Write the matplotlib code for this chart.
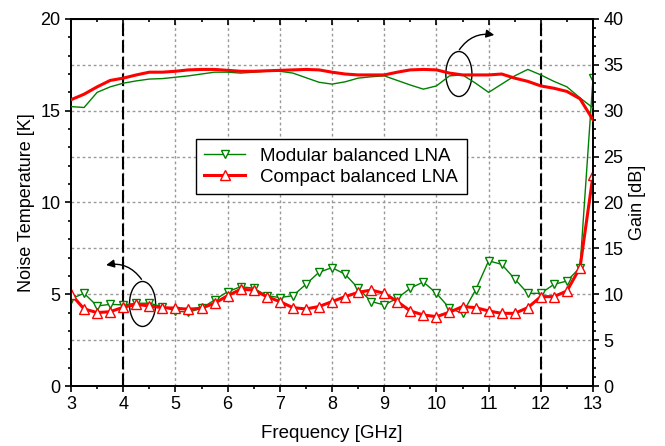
# noise temperature and gain of the two balanced LNAs
import numpy as np
import matplotlib

matplotlib.use("Agg")
import matplotlib.pyplot as plt
from matplotlib.patches import Ellipse, FancyArrowPatch
from matplotlib.ticker import MultipleLocator

plt.rcParams["font.family"] = ["Liberation Sans", "DejaVu Sans"]
plt.rcParams["font.size"] = 13

freq = np.arange(3.0, 13.01, 0.25)  # GHz, 41 points

noise_modular = [4.75, 5.05, 4.36, 4.45, 4.42, 4.51, 4.51, 4.32, 4.09, 4.02,
                 4.24, 4.69, 5.14, 5.41, 5.33, 4.92, 4.82, 4.92, 5.54, 6.20,
                 6.45, 6.09, 5.33, 4.60, 4.42, 4.78, 5.33, 5.67, 5.05, 4.24,
                 3.96, 5.23, 6.82, 6.63, 5.83, 5.05, 5.05, 5.54, 5.72, 6.45,
                 16.8]
noise_compact = [5.00, 4.20, 4.00, 4.05, 4.29, 4.45, 4.36, 4.27, 4.24, 4.18,
                 4.24, 4.51, 4.92, 5.27, 5.23, 4.87, 4.60, 4.27, 4.20, 4.33,
                 4.60, 4.87, 5.10, 5.23, 5.05, 4.60, 4.09, 3.87, 3.78, 4.02,
                 4.33, 4.27, 4.09, 3.96, 3.96, 4.27, 4.87, 4.87, 5.18, 6.45,
                 11.5]
gain_modular = [30.45, 30.35, 32.0, 32.6, 33.0, 33.25, 33.45, 33.5, 33.65, 33.8,
                34.0, 34.2, 34.2, 34.1, 34.2, 34.3, 34.3, 34.1, 33.6, 33.1,
                32.9, 33.15, 33.55, 33.7, 33.8, 33.3, 32.8, 32.35, 32.7, 33.8,
                33.9, 33.0, 32.0, 32.9, 33.8, 34.5, 33.9, 33.2, 32.6, 31.4,
                30.3]
gain_compact = [31.2, 31.8, 32.6, 33.3, 33.55, 33.9, 34.2, 34.2, 34.3, 34.45,
                34.5, 34.5, 34.4, 34.3, 34.3, 34.35, 34.4, 34.45, 34.5, 34.45,
                34.2, 34.0, 33.9, 33.9, 33.9, 34.2, 34.45, 34.5, 34.45, 34.1,
                33.9, 33.9, 33.9, 34.0, 33.55, 33.2, 32.7, 32.45, 32.1, 31.3,
                29.0]

green = "#008000"
red = "#ff0000"

fig = plt.figure(figsize=(6.65, 4.46), dpi=100)
ax1 = fig.add_axes([0.1068, 0.1345, 0.785, 0.823])
ax2 = ax1.twinx()

ax1.set_xlim(3, 13)
ax1.set_ylim(0, 20)
ax2.set_ylim(0, 40)

# grid: vertical at each GHz, horizontal at each 5 dB
for xv in range(4, 13):
    ax1.axvline(xv, color="#999999", lw=1, ls=(0, (2, 2)), zorder=0)
for yv in np.arange(2.5, 20, 2.5):
    ax1.axhline(yv, color="#999999", lw=1, ls=(0, (2, 2)), zorder=0)

for xv in [4, 12]:
    ax1.axvline(xv, color="black", lw=1.5, ls=(0, (6, 2)), zorder=1)

ax1.plot(freq, noise_modular, color=green, lw=1, marker="v", ms=6,
         mfc="white", mec=green, mew=1, label="Modular balanced LNA", zorder=3)
ax1.plot(freq, noise_compact, color=red, lw=2.2, marker="^", ms=6.5,
         mfc="white", mec=red, mew=1, label="Compact balanced LNA", zorder=4)
ax2.plot(freq, gain_modular, color=green, lw=1, zorder=3)
ax2.plot(freq, gain_compact, color=red, lw=2.2, zorder=4)

# ellipses + curved arrows pointing to the matching axis
ax1.add_patch(Ellipse((4.37, 4.47), 0.5, 2.45, fill=False, lw=1, color="black"))
ax1.add_patch(FancyArrowPatch((4.38, 5.69), (3.62, 6.56),
                              connectionstyle="arc3,rad=0.35",
                              arrowstyle="-|>", mutation_scale=12, lw=1,
                              color="black"))
ax2.add_patch(Ellipse((10.43, 34.0), 0.5, 4.9, fill=False, lw=1, color="black"))
ax2.add_patch(FancyArrowPatch((10.41, 36.4), (11.16, 38.2),
                              connectionstyle="arc3,rad=-0.35",
                              arrowstyle="-|>", mutation_scale=12, lw=1,
                              color="black"))

ax1.xaxis.set_major_locator(MultipleLocator(1))
ax1.xaxis.set_minor_locator(MultipleLocator(0.5))
ax1.yaxis.set_major_locator(MultipleLocator(5))
ax1.yaxis.set_minor_locator(MultipleLocator(1))
ax2.yaxis.set_major_locator(MultipleLocator(5))
ax2.yaxis.set_minor_locator(MultipleLocator(1))

for ax in (ax1, ax2):
    ax.tick_params(which="major", length=4, width=1.2, direction="out",
                   labelsize=13)
    ax.tick_params(which="minor", length=2, width=1.2, direction="out")
    for s in ax.spines.values():
        s.set_linewidth(1.3)

top = ax1.secondary_xaxis("top")
top.xaxis.set_major_locator(MultipleLocator(1))
top.xaxis.set_minor_locator(MultipleLocator(0.5))
top.tick_params(which="major", length=4, width=1.2, direction="in",
                labeltop=False)
top.tick_params(which="minor", length=2, width=1.2, direction="in")

ax1.set_xlabel("Frequency [GHz]", fontsize=13.5, labelpad=8)
ax1.set_ylabel("Noise Temperature [K]", fontsize=13)
ax2.set_ylabel("Gain [dB]", fontsize=13)

leg = ax1.legend(loc="upper left", bbox_to_anchor=(0.239, 0.672),
                 borderaxespad=0, fontsize=13.5, fancybox=False, framealpha=1,
                 edgecolor="black", handlelength=2.2, borderpad=0.45,
                 labelspacing=0.2)
leg.get_frame().set_linewidth(1)
leg.set_zorder(10)

fig.savefig("out.png", dpi=100)
